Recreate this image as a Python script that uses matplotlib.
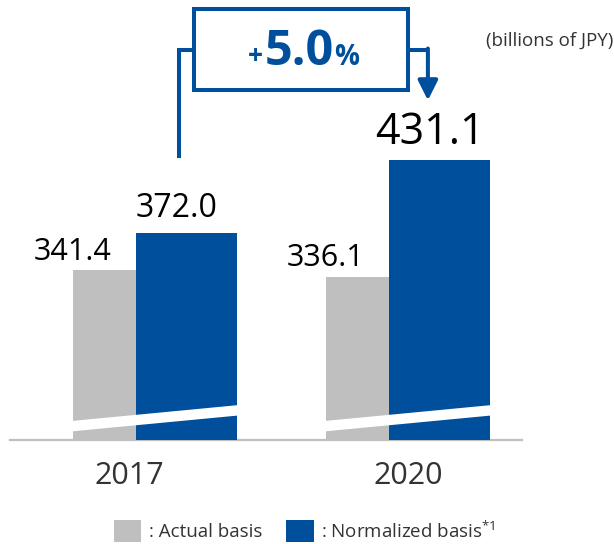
import numpy as np
import matplotlib
matplotlib.use("Agg")
import matplotlib.pyplot as plt
from matplotlib.patches import Patch, Polygon, Rectangle

# Revenue (billions of JPY)
years = ["2017", "2020"]
actual = [341.4, 336.1]
normalized = [372.0, 431.1]
growth = "5.0"

GRAY = "#bfbfbf"
BLUE = "#004f9c"
TEXT = "#333333"

plt.rcParams["font.family"] = ["Open Sans", "DejaVu Sans"]
plt.rcParams["mathtext.default"] = "regular"

fig = plt.figure(figsize=(6.14, 5.44), dpi=100)
ax = fig.add_axes([10 / 614, 104 / 544, 512 / 614, 440 / 544])

x = np.arange(len(years))
width = 0.4
shift = 0.125

# Overlapping bars, blue in front of gray
ax.bar(x - shift, actual, width, color=GRAY, zorder=2)
ax.bar(x + shift, normalized, width, color=BLUE, zorder=3)

# Axis is broken (does not start at zero)
ax.set_ylim(203, 562)
ax.set_xlim(-0.573, 1.451)

for side in ["top", "left", "right"]:
    ax.spines[side].set_visible(False)
ax.spines["bottom"].set_color(GRAY)
ax.spines["bottom"].set_linewidth(1.6)
ax.set_xticks([])
ax.set_yticks([])

# White slanted break marks across each pair of bars
for xi in x:
    ax.add_patch(Polygon([(xi - 0.33, 210), (xi + 0.33, 223),
                          (xi + 0.33, 231.5), (xi - 0.33, 218.5)],
                         closed=True, fc="white", ec="none", zorder=4))

# Value labels
for xi, v in zip(x, actual):
    ax.annotate(f"{v:.1f}", (xi - shift - width / 2, v), xytext=(0, 7.5),
                textcoords="offset points", ha="center", va="baseline",
                fontsize=22, color="black")

blue_sizes = [23, 31]
for xi, v, fs in zip(x, normalized, blue_sizes):
    ax.annotate(f"{v:.1f}", (xi + shift, v), xytext=(-7, 11.5),
                textcoords="offset points", ha="center", va="baseline",
                fontsize=fs, color="black")

# Year labels under the axis
year_offsets = [-0.1, 0.0]
for xi, yr, off in zip(x, years, year_offsets):
    ax.text(xi + off, -0.1, yr, transform=ax.get_xaxis_transform(),
            ha="center", va="baseline", fontsize=22, color=TEXT)

# Growth callout: box with connector from 2017 to 2020
lw = 2.9
ax.add_patch(Rectangle((0.154, 488.6), 0.846, 66.1, fill=False, ec=BLUE,
                       lw=lw, joinstyle="miter", clip_on=False, zorder=5))
y_link = 521.2
ax.plot([x[0] + 0.095, x[0] + 0.095, 0.154], [normalized[0] + 61, y_link, y_link],
        color=BLUE, lw=lw, solid_joinstyle="miter", solid_capstyle="butt", zorder=5)
ax.plot([1.0, x[1] + 0.079 + 0.005], [y_link, y_link],
        color=BLUE, lw=lw, solid_capstyle="butt", zorder=5)
ax.annotate("", xy=(x[1] + 0.079, normalized[1] + 49), xytext=(x[1] + 0.079, y_link + 1.2),
            arrowprops=dict(arrowstyle="-|>,head_length=0.6,head_width=0.3",
                            mutation_scale=20, color=BLUE, lw=lw,
                            shrinkA=0, shrinkB=0), zorder=5)

ax.text(0.569, 509, growth, fontsize=35, fontweight="bold", color=BLUE,
        ha="center", va="baseline", zorder=6)
ax.text(0.425, 510, "+", fontsize=19, fontweight="bold", color=BLUE,
        ha="right", va="baseline", zorder=6)
ax.text(0.708, 509, "%", fontsize=20, fontweight="bold", color=BLUE,
        ha="left", va="baseline", zorder=6)

fig.text(0.999, 0.925, "(billions of JPY)", ha="right", va="center",
         fontsize=13.5, color=TEXT)

# Legend
handles = [Patch(fc=GRAY), Patch(fc=BLUE)]
labels = [": Actual basis", ": Normalized basis$^{*1}$"]
fig.legend(handles, labels, loc="center left", bbox_to_anchor=(114 / 614, 13 / 544),
           ncol=2, frameon=False, fontsize=13.5, handlelength=1.45, handleheight=1.4,
           handletextpad=0.4, columnspacing=1.3, borderpad=0, borderaxespad=0,
           labelcolor=TEXT)

fig.savefig("out.png", dpi=100)
